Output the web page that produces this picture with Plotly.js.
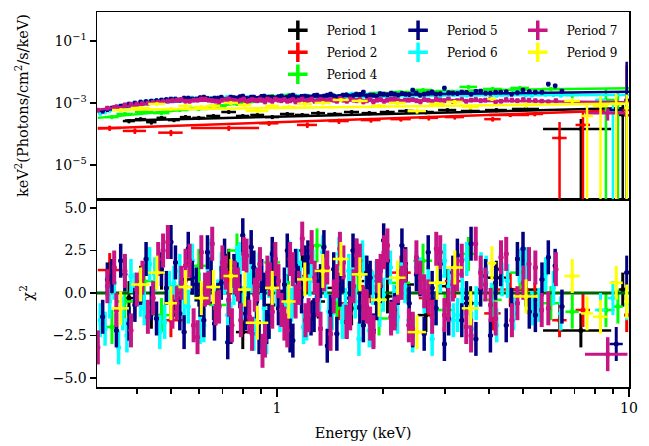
<!DOCTYPE html>
<html><head><meta charset="utf-8">
<script src="https://cdn.plot.ly/plotly-3.0.1.min.js"></script>
<style>html,body{margin:0;padding:0;background:#fff}#chart{width:649px;height:446px}</style>
</head><body><div id="chart"></div>
<script>
// ---------------- data (energy keV, E^2 flux, chi residual) ----------------
const P1_E  = [0.38,0.41,0.44,0.47,0.51,0.55,0.60,0.66,0.73,0.80,0.88,0.97,1.07,1.18,1.31,1.46,1.63,1.83,2.06,2.33,2.65,3.05,3.55,4.2,5.1,7.3,9.6];
const P1_DE = [0.015,0.015,0.015,0.015,0.02,0.02,0.025,0.03,0.035,0.035,0.04,0.045,0.05,0.055,0.06,0.07,0.08,0.09,0.1,0.12,0.14,0.18,0.22,0.3,0.45,1.6,0.25];
const P1_F  = [2.6e-4,3.0e-4,2.4e-4,3.3e-4,2.8e-4,3.5e-4,3.3e-4,3.8e-4,5.1e-4,3.8e-4,4.1e-4,3.5e-4,4.4e-4,4.1e-4,4.7e-4,4.4e-4,5.1e-4,4.7e-4,5.1e-4,5.5e-4,5.1e-4,5.9e-4,5.5e-4,5.9e-4,6.4e-4,1.45e-4,4.1e-4];
const P1_DF = [4e-5,4e-5,4e-5,5e-5,4e-5,5e-5,5e-5,5e-5,6e-5,5e-5,5e-5,5e-5,6e-5,6e-5,6e-5,6e-5,7e-5,7e-5,7e-5,8e-5,8e-5,8e-5,8e-5,9e-5,1e-4,1.6e-4,4.5e-4];
const P1_R  = [-0.3,0.6,-1.1,1.2,-0.4,0.8,0.2,-0.6,1.6,-2.3,0.4,-0.7,0.1,2.5,-0.5,0.3,-0.9,0.7,-0.2,0.5,-1.3,0.4,-0.6,0.9,0.2,-2.2,0.2];
const P1_ME = [0.37,10], P1_MF = [2.7e-4,6.9e-4];
const P2_E  = [0.335,0.395,0.50,0.73,0.95,1.22,1.5,1.85,2.25,2.7,3.2,4.1,4.6,5.4,6.35,7.4,9.85];
const P2_DE = [0.025,0.03,0.04,0.16,0.06,0.08,0.1,0.12,0.15,0.17,0.2,0.22,0.6,0.3,0.3,0.35,0.15];
const P2_F  = [1.55e-4,1.25e-4,1.1e-4,1.55e-4,2.2e-4,1.95e-4,2.6e-4,2.8e-4,3.0e-4,3.3e-4,3.5e-4,3.0e-4,4.1e-4,4.4e-4,7.4e-5,1.95e-4,4.0e-4];
const P2_DF = [3e-5,2.5e-5,2.5e-5,3e-5,4e-5,4e-5,5e-5,5e-5,5e-5,6e-5,6e-5,5e-5,6e-5,7e-5,1.7e-4,3.2e-4,1.6e-2];
const P2_R  = [1.35,-0.5,-1.6,0.3,0.8,1.0,-0.6,0.4,1.2,-0.3,0.7,-1.2,0.2,-0.4,-1.6,-1.0,-1.3];
const P2_ME = [0.31,10], P2_MF = [1.5e-4,5.9e-4];
const P4_E  = [0.34,0.37,0.42,0.47,0.53,0.60,0.68,0.77,0.87,0.97,1.08,1.30,1.48,1.70,1.95,2.25,2.60,3.00,3.50,4.10,4.90,6.00,6.90,8.60,9.30];
const P4_DE = [0.015,0.02,0.025,0.025,0.03,0.035,0.04,0.045,0.05,0.05,0.06,0.08,0.09,0.1,0.12,0.14,0.16,0.18,0.2,0.25,0.3,0.35,0.3,0.5,0.3];
const P4_F  = [3.5e-4,4.4e-4,5.1e-4,4.7e-4,5.9e-4,6.4e-4,8.0e-4,9.3e-4,1.16e-3,1.68e-3,1.81e-3,1.56e-3,1.68e-3,1.81e-3,2.1e-3,2.26e-3,2.62e-3,2.44e-3,3.3e-3,2.83e-3,3.05e-3,2.83e-3,1.81e-3,1.25e-3,9.3e-4];
const P4_DF = [5e-5,6e-5,7e-5,7e-5,8e-5,9e-5,1.1e-4,1.3e-4,1.6e-4,2.2e-4,2.4e-4,2.2e-4,2.4e-4,2.6e-4,3e-4,3.2e-4,3.6e-4,3.5e-4,4.5e-4,4.2e-4,4.6e-4,4.5e-4,4e-4,1.6e-3,1.5e-3];
const P4_R  = [-2.0,-0.5,0.7,-1.3,0.4,1.6,-0.7,2.5,0.2,1.8,-0.3,2.8,-0.9,1.1,-1.5,0.6,1.9,-1.0,2.3,-0.4,1.2,-0.6,-1.1,-1.0,-0.8];
const P4_ME = [0.31,0.5,0.8,1.2,2,4,10], P4_MF = [3.3e-4,5.5e-4,1.0e-3,1.5e-3,2.0e-3,2.6e-3,3.0e-3];
const P5_E  = [0.32,0.34,0.36,0.38,0.41,0.44,0.47,0.50,0.53,0.56,0.59,0.62,0.65,0.68,0.71,0.74,0.77,0.80,0.83,0.86,0.89,0.92,0.95,0.99,1.03,1.07,1.11,1.15,1.20,1.25,1.30,1.36,1.42,1.48,1.54,1.61,1.68,1.76,1.84,1.92,2.01,2.11,2.21,2.32,2.43,2.55,2.69,2.83,2.99,3.16,3.35,3.56,3.79,4.04,4.32,4.64,5.00,5.42,5.90,6.45];
const P5_F  = [0.55e-3,0.69e-3,0.80e-3,0.93e-3,1.08e-3,1.16e-3,1.25e-3,1.35e-3,1.25e-3,1.45e-3,1.35e-3,1.56e-3,1.35e-3,1.45e-3,1.25e-3,1.56e-3,1.45e-3,1.68e-3,1.35e-3,1.56e-3,1.45e-3,1.68e-3,1.56e-3,1.45e-3,1.68e-3,1.56e-3,1.81e-3,1.45e-3,1.68e-3,1.56e-3,1.81e-3,1.68e-3,1.95e-3,1.56e-3,1.81e-3,1.68e-3,1.95e-3,2.26e-3,1.81e-3,1.68e-3,1.95e-3,2.10e-3,1.81e-3,1.95e-3,2.62e-3,1.81e-3,2.10e-3,1.95e-3,3.05e-3,2.10e-3,2.26e-3,1.95e-3,2.44e-3,2.10e-3,2.26e-3,1.95e-3,2.62e-3,2.26e-3,4.10e-3,2.44e-3];
const P5_R  = [-1.4,1.0,1.9,-1.8,0.3,-0.6,1.4,3.0,-1.2,2.6,0.5,-1.6,1.1,-0.4,2.2,-2.0,0.8,3.4,-0.9,1.5,-2.6,0.2,-1.7,1.3,-0.8,2.5,-2.8,0.6,1.8,-1.5,0.4,2.7,-1.1,-2.4,1.0,-0.3,2.2,-1.9,0.9,-0.6,3.1,-1.4,0.3,1.7,-2.2,0.8,2.4,-0.9,-3.0,1.2,-1.6,2.9,0.2,-2.5,1.4,-0.7,2.6,-1.3,2.1,-0.8];
const P5B_E = [0.33,0.35,0.37,0.395,0.425,0.455,0.485,0.515,0.545,0.575,0.605,0.635,0.665,0.695,0.725,0.755,0.785,0.815,0.845,0.875,0.905,0.935,0.97,1.01,1.05,1.09,1.13,1.175,1.225,1.275,1.33,1.39,1.45,1.51,1.575,1.645,1.72,1.80,1.88,1.965,2.06,2.16,2.265,2.375,2.49,2.62,2.76,2.91,3.075,3.255,3.455,3.675,3.915,4.18,4.48,4.82,5.21,5.66,6.17];
const P5B_F = [0.62e-3,0.75e-3,0.86e-3,1.00e-3,1.12e-3,1.20e-3,1.30e-3,1.35e-3,1.45e-3,1.35e-3,1.50e-3,1.40e-3,1.45e-3,1.55e-3,1.35e-3,1.50e-3,1.60e-3,1.45e-3,1.55e-3,1.40e-3,1.65e-3,1.50e-3,1.55e-3,1.60e-3,1.45e-3,1.70e-3,1.55e-3,1.65e-3,1.60e-3,1.75e-3,1.60e-3,1.80e-3,1.70e-3,1.65e-3,1.85e-3,1.75e-3,1.90e-3,1.70e-3,1.80e-3,2.00e-3,1.85e-3,1.95e-3,2.05e-3,1.90e-3,2.10e-3,1.95e-3,2.30e-3,2.00e-3,2.15e-3,2.05e-3,2.20e-3,2.40e-3,2.10e-3,2.25e-3,2.30e-3,2.15e-3,2.35e-3,2.25e-3,3.60e-3];
const P5B_R = [0.8,-2.2,1.1,-0.7,2.0,-1.5,0.3,1.8,-2.3,0.9,-0.4,2.4,-1.8,0.6,-2.9,1.3,0.1,-1.2,2.7,-0.5,1.0,-2.0,2.3,-0.9,0.5,-2.5,1.6,-0.2,2.1,-1.3,0.7,-3.1,1.4,0.2,-1.7,2.5,-0.8,1.2,-2.2,0.4,1.9,-1.0,2.8,-0.6,1.1,-2.4,0.3,1.7,-1.5,2.2,-0.3,-2.7,1.0,0.6,-1.9,2.0,-1.1,0.8,1.6];
const P5T_E = [9.2,9.85], P5T_DE = [0.4,0.15], P5T_F = [5.9e-4,1.25e-3], P5T_DF = [7e-4,2e-2], P5T_R = [-3.0,1.2];
const P5_ME = [0.31,0.45,0.7,1,3,10], P5_MF = [5.5e-4,1.05e-3,1.4e-3,1.55e-3,1.95e-3,2.3e-3];
const P6_E  = [0.315,0.335,0.355,0.375,0.395,0.42,0.45,0.48,0.51,0.545,0.575,0.605,0.635,0.665,0.695,0.725,0.755,0.785,0.815,0.845,0.875,0.905,0.935,0.965,1.00,1.04,1.08,1.12,1.165,1.215,1.265,1.32,1.375,1.435,1.50,1.565,1.635,1.71,1.79,1.87,1.96,2.05,2.15,2.255,2.37,2.49,2.62,2.76,2.91,3.08,3.26,3.46,3.68,3.93,4.21,4.52,4.88,5.30,5.80,6.40];
const P6_F  = [0.47e-3,0.59e-3,0.74e-3,0.86e-3,1.00e-3,1.08e-3,1.16e-3,1.25e-3,1.35e-3,1.25e-3,1.45e-3,1.35e-3,1.45e-3,1.25e-3,1.35e-3,1.56e-3,1.35e-3,1.45e-3,1.25e-3,1.56e-3,1.35e-3,1.45e-3,1.56e-3,1.35e-3,1.45e-3,1.68e-3,1.45e-3,1.56e-3,1.35e-3,1.68e-3,1.56e-3,1.45e-3,1.68e-3,1.81e-3,1.56e-3,1.68e-3,1.95e-3,1.56e-3,1.81e-3,1.68e-3,1.95e-3,1.68e-3,1.81e-3,2.10e-3,1.68e-3,1.95e-3,1.81e-3,2.10e-3,1.68e-3,1.95e-3,2.26e-3,1.81e-3,1.95e-3,2.10e-3,1.81e-3,1.95e-3,2.10e-3,1.81e-3,1.95e-3,1.81e-3];
const P6_R  = [-1.6,-0.5,-3.2,-2.5,0.2,-0.9,1.1,-1.7,0.6,-0.3,1.9,-2.0,0.8,-0.6,1.4,-1.3,0.3,2.0,-0.8,1.0,-1.5,0.6,-2.6,1.5,0.2,-1.0,2.1,-0.4,0.9,-1.8,1.6,-0.2,0.7,-1.2,2.3,-0.7,0.5,-2.7,1.2,0.3,-1.0,1.8,-0.5,0.9,-1.6,1.5,-0.2,-2.7,1.0,0.4,-1.3,2.0,-0.6,1.2,-1.9,0.7,1.6,-0.9,1.1,-1.2];
const P6B_E = [0.325,0.345,0.365,0.385,0.41,0.435,0.465,0.495,0.53,0.56,0.59,0.62,0.65,0.68,0.71,0.74,0.77,0.80,0.83,0.86,0.89,0.92,0.95,0.985,1.02,1.06,1.10,1.145,1.19,1.24,1.295,1.35,1.405,1.47,1.535,1.60,1.67,1.75,1.83,1.915,2.005,2.10,2.20,2.31,2.43,2.555,2.69,2.835,2.995,3.17,3.36,3.57,3.80,4.07,4.36,4.70,5.09,5.55,6.10];
const P6B_F = [0.52e-3,0.66e-3,0.80e-3,0.93e-3,1.04e-3,1.12e-3,1.20e-3,1.30e-3,1.30e-3,1.40e-3,1.35e-3,1.50e-3,1.40e-3,1.30e-3,1.45e-3,1.50e-3,1.40e-3,1.35e-3,1.50e-3,1.45e-3,1.40e-3,1.55e-3,1.45e-3,1.50e-3,1.60e-3,1.50e-3,1.55e-3,1.65e-3,1.45e-3,1.60e-3,1.70e-3,1.55e-3,1.75e-3,1.65e-3,1.60e-3,1.80e-3,1.70e-3,1.65e-3,1.85e-3,1.75e-3,1.80e-3,1.90e-3,1.75e-3,1.85e-3,2.00e-3,1.80e-3,1.95e-3,1.85e-3,2.05e-3,1.90e-3,1.85e-3,2.00e-3,2.10e-3,1.90e-3,1.95e-3,2.05e-3,1.85e-3,2.00e-3,1.90e-3];
const P6B_R = [-2.1,0.6,-1.2,1.0,-0.4,1.7,-2.3,0.3,1.3,-0.8,0.5,-1.9,2.2,-0.2,0.9,-1.5,1.8,-0.6,0.2,-2.4,1.4,-0.9,0.7,2.0,-1.3,0.1,-0.7,1.6,-2.0,0.8,-0.3,2.4,-1.1,0.5,-1.7,1.3,-0.5,2.1,-2.2,0.9,-0.1,1.5,-1.4,0.4,-2.5,1.1,0.6,-0.9,1.9,-1.6,0.2,-2.1,1.4,-0.4,0.8,-1.2,1.7,-0.7,0.3];
const P6T_E = [8.3,9.0,9.85], P6T_DE = [0.3,0.3,0.15], P6T_F = [1.25e-3,5.1e-4,6.9e-4], P6T_DF = [3e-4,6e-4,8e-4], P6T_R = [-1.0,-0.3,-0.6];
const P6_ME = [0.31,0.45,0.7,1,3,10], P6_MF = [5.0e-4,1.0e-3,1.35e-3,1.45e-3,1.75e-3,1.8e-3];
const P7_E  = [0.31,0.33,0.35,0.37,0.40,0.43,0.46,0.49,0.52,0.55,0.58,0.61,0.64,0.67,0.70,0.73,0.76,0.79,0.82,0.85,0.88,0.91,0.94,0.97,1.01,1.05,1.09,1.13,1.18,1.23,1.28,1.33,1.39,1.45,1.51,1.58,1.65,1.72,1.80,1.88,1.97,2.06,2.16,2.26,2.37,2.49,2.62,2.76,2.91,3.07,3.25,3.45,3.67,3.91,4.18,4.48,4.82,5.20,5.65,6.20];
const P7_F  = [0.59e-3,0.69e-3,0.74e-3,0.86e-3,0.93e-3,1.00e-3,1.08e-3,1.16e-3,1.25e-3,1.16e-3,1.25e-3,1.35e-3,1.25e-3,1.16e-3,1.25e-3,1.35e-3,1.20e-3,1.25e-3,1.10e-3,1.30e-3,1.20e-3,1.25e-3,1.35e-3,1.15e-3,1.25e-3,1.30e-3,1.20e-3,1.10e-3,1.35e-3,1.25e-3,1.15e-3,1.30e-3,1.20e-3,1.25e-3,1.40e-3,1.15e-3,1.25e-3,1.30e-3,1.20e-3,1.10e-3,1.30e-3,1.25e-3,1.35e-3,1.15e-3,1.25e-3,1.20e-3,1.30e-3,1.10e-3,1.25e-3,1.35e-3,1.20e-3,1.15e-3,1.30e-3,1.25e-3,1.10e-3,1.30e-3,1.20e-3,1.25e-3,1.15e-3,1.20e-3];
const P7_R  = [-3.2,0.4,-1.0,1.3,0.2,-1.4,2.0,3.0,-0.6,1.6,-1.9,2.4,0.3,-0.9,1.8,-0.4,0.9,-1.6,2.2,-2.4,0.5,-3.4,1.2,-1.1,0.7,-1.8,2.0,-0.5,3.2,-1.3,0.9,-2.1,1.5,-0.2,2.6,-1.7,0.4,1.9,-0.8,-2.3,1.3,2.8,-1.2,0.6,-1.9,2.1,0.1,-1.4,2.4,-0.7,1.1,-2.0,2.9,0.5,-1.5,2.3,-0.6,1.7,-1.0,1.4];
const P7B_E = [0.345,0.385,0.415,0.445,0.475,0.505,0.535,0.565,0.595,0.625,0.655,0.685,0.715,0.745,0.775,0.805,0.835,0.865,0.895,0.925,0.955,0.99,1.03,1.07,1.11,1.155,1.205,1.255,1.305,1.36,1.42,1.48,1.545,1.615,1.685,1.76,1.84,1.925,2.015,2.11,2.21,2.315,2.43,2.555,2.69,2.835,2.99,3.16,3.35,3.56,3.79,4.045,4.33,4.65,5.01,5.42,5.9];
const P7B_F = [0.72e-3,0.90e-3,0.97e-3,1.05e-3,1.12e-3,1.20e-3,1.30e-3,1.15e-3,1.25e-3,1.35e-3,1.20e-3,1.10e-3,1.30e-3,1.25e-3,1.15e-3,1.35e-3,1.20e-3,1.25e-3,1.30e-3,1.10e-3,1.25e-3,1.35e-3,1.20e-3,1.15e-3,1.30e-3,1.25e-3,1.10e-3,1.35e-3,1.20e-3,1.25e-3,1.30e-3,1.15e-3,1.25e-3,1.35e-3,1.20e-3,1.10e-3,1.30e-3,1.25e-3,1.15e-3,1.35e-3,1.20e-3,1.25e-3,1.30e-3,1.10e-3,1.25e-3,1.35e-3,1.20e-3,1.15e-3,1.30e-3,1.25e-3,1.20e-3,1.35e-3,1.15e-3,1.25e-3,1.30e-3,1.20e-3,1.10e-3];
const P7B_R = [1.5,-2.2,0.9,-0.3,2.5,-1.1,0.6,1.9,-2.6,0.2,2.9,-0.8,1.2,-1.9,0.5,2.3,-1.4,-0.1,1.7,-2.8,0.8,2.0,-1.0,-2.2,1.4,0.3,-1.6,2.7,-0.4,1.1,-2.4,0.7,1.8,-1.2,2.2,-0.6,-1.8,1.0,2.4,-1.5,0.4,1.6,-2.1,0.9,-0.2,2.6,-1.3,0.5,1.9,-2.5,1.2,-0.7,2.1,-1.6,0.6,1.5,-0.9];
const P7T_E = [8.7], P7T_DE = [1.2], P7T_F = [4.7e-4], P7T_DF = [2e-4], P7T_R = [-3.6];
const P7_ME = [0.31,0.5,1,3,10], P7_MF = [6.0e-4,1.15e-3,1.22e-3,1.2e-3,1.05e-3];
const P9_E  = [0.36,0.41,0.456,0.50,0.55,0.61,0.66,0.74,0.81,0.88,0.97,1.08,1.2,1.35,1.52,1.72,1.95,2.2,2.5,2.85,3.2,3.55,4.08,5.1,6.9,7.6,8.3,9.2,9.85];
const P9_DE = [0.02,0.025,0.025,0.02,0.025,0.03,0.03,0.035,0.035,0.065,0.045,0.05,0.06,0.07,0.08,0.09,0.1,0.12,0.15,0.15,0.17,0.2,0.12,0.4,0.35,0.3,0.4,0.4,0.15];
const P9_F  = [5.9e-4,6.9e-4,9.3e-4,6.4e-4,8.0e-4,7.4e-4,8.0e-4,1.0e-3,8.6e-4,5.5e-4,8.0e-4,7.4e-4,9.3e-4,1.0e-3,1.25e-3,1.16e-3,8.0e-4,1.0e-3,5.5e-4,9.3e-4,1.08e-3,7.4e-4,1.35e-3,8.6e-4,1.16e-3,3.8e-4,8.0e-4,9.3e-4,6.9e-4];
const P9_DF = [7e-5,8e-5,1.1e-4,8e-5,1e-4,9e-5,1e-4,1.2e-4,1.1e-4,8e-5,1e-4,1e-4,1.2e-4,1.3e-4,1.5e-4,1.5e-4,1.1e-4,1.4e-4,1e-4,1.4e-4,1.6e-4,1.3e-4,2e-4,1.6e-4,2.2e-4,4.5e-4,9e-4,1.0e-3,1.2e-3];
const P9_R  = [-0.9,0.5,1.2,-0.6,0.35,-0.3,0.35,1.0,0.2,-1.75,0.3,-0.5,0.8,1.3,2.0,1.1,-0.4,0.9,-2.3,0.6,1.5,-0.9,1.75,-0.2,1.0,-1.2,-1.4,0.6,-0.5];
const P9_ME = [0.36,10], P9_MF = [6.0e-4,9.6e-4];
const ZERO_E = [0.3,10], ZERO_R = [0,0];
const MINOR_TICKS = [0.4,0.5,0.6,0.7,0.8,0.9,2,3,4,5,6,7,8,9];

// ---------------- build traces ----------------
const FONT = 'DejaVu Serif';
const traces = [];
function errArr(a){ return {type:'data', array:a, visible:true}; }
function addData(color, E, F, R, ex, ey, th){
  traces.push({x:E, y:F, xaxis:'x2', yaxis:'y', type:'scatter', mode:'markers', showlegend:false, hoverinfo:'skip',
    marker:{color:color, size:4}, error_x:Object.assign({color:color, thickness:th, width:0}, ex),
    error_y:Object.assign({color:color, thickness:th, width:0}, ey)});
  traces.push({x:E, y:R, xaxis:'x', yaxis:'y2', type:'scatter', mode:'markers', showlegend:false, hoverinfo:'skip',
    marker:{color:color, size:5}, error_x:Object.assign({color:color, thickness:th, width:0}, ex),
    error_y:{type:'constant', value:1, color:color, thickness:th+0.5, width:0}});
}
function addModel(color, ME, MF){
  traces.push({x:ME, y:MF, xaxis:'x2', yaxis:'y', type:'scatter', mode:'lines', showlegend:false, hoverinfo:'skip',
    line:{color:color, width:2.5}});
}
function addLegend(name, color, legend){
  traces.push({x:[null], y:[null], xaxis:'x2', yaxis:'y', type:'scatter', mode:'markers', name:name, legend:legend,
    legendgroup:name, marker:{symbol:'cross-thin-open', size:14, line:{color:color, width:3.5}, color:color}});
}
const C = {p1:'#000000', p2:'#ff0000', p4:'#00ff00', p5:'#000080', p6:'#00ffff', p7:'#c71585', p9:'#ffff00'};
const pctX = {type:'percent', value:1.5}, pctY = {type:'percent', value:18};

addData(C.p1, P1_E, P1_F, P1_R, errArr(P1_DE), errArr(P1_DF), 2.5); addModel(C.p1, P1_ME, P1_MF);
addData(C.p2, P2_E, P2_F, P2_R, errArr(P2_DE), errArr(P2_DF), 2.5); addModel(C.p2, P2_ME, P2_MF);
addData(C.p4, P4_E, P4_F, P4_R, errArr(P4_DE), errArr(P4_DF), 2.5); addModel(C.p4, P4_ME, P4_MF);
traces.push({x:ZERO_E, y:ZERO_R, xaxis:'x', yaxis:'y2', type:'scatter', mode:'lines', showlegend:false, hoverinfo:'skip',
  line:{color:'#006400', width:3}});
addData(C.p6, P6_E, P6_F, P6_R, pctX, pctY, 3);
addData(C.p6, P6B_E, P6B_F, P6B_R, pctX, pctY, 3);
addData(C.p6, P6T_E, P6T_F, P6T_R, errArr(P6T_DE), errArr(P6T_DF), 2.5); addModel(C.p6, P6_ME, P6_MF);
addData(C.p5, P5_E, P5_F, P5_R, pctX, pctY, 3);
addData(C.p5, P5B_E, P5B_F, P5B_R, pctX, pctY, 3);
addData(C.p5, P5T_E, P5T_F, P5T_R, errArr(P5T_DE), errArr(P5T_DF), 2.5); addModel(C.p5, P5_ME, P5_MF);
addData(C.p7, P7_E, P7_F, P7_R, pctX, pctY, 3.5);
addData(C.p7, P7B_E, P7B_F, P7B_R, pctX, pctY, 3.5);
addData(C.p7, P7T_E, P7T_F, P7T_R, errArr(P7T_DE), errArr(P7T_DF), 3); addModel(C.p7, P7_ME, P7_MF);
addData(C.p9, P9_E, P9_F, P9_R, errArr(P9_DE), errArr(P9_DF), 2.5); addModel(C.p9, P9_ME, P9_MF);

addLegend('Period 1', C.p1, 'legend'); addLegend('Period 2', C.p2, 'legend'); addLegend('Period 4', C.p4, 'legend');
addLegend('Period 5', C.p5, 'legend2'); addLegend('Period 6', C.p6, 'legend2');
addLegend('Period 7', C.p7, 'legend3'); addLegend('Period 9', C.p9, 'legend3');

const axLine = {showline:true, mirror:true, linecolor:'#000', linewidth:1.5, showgrid:false, zeroline:false};
const legBase = {yanchor:'top', xanchor:'left', y:0.99, itemwidth:48, bgcolor:'rgba(0,0,0,0)',
  font:{family:FONT, size:12, color:'#000'}, tracegroupgap:3, traceorder:'grouped'};
const layout = {
  width:649, height:446, margin:{l:97, r:20, t:12, b:59},
  paper_bgcolor:'#fff', plot_bgcolor:'#fff',
  font:{family:FONT, size:14, color:'#000'},
  showlegend:true,
  xaxis:Object.assign({type:'log', range:[-0.511,1], anchor:'y2', domain:[0,1],
    ticks:'outside', ticklen:8, tickwidth:1.5, tickcolor:'#000', tickmode:'array', tickvals:[1,10], ticktext:['1','10'],
    tickfont:{family:FONT, size:14, color:'#000'},
    minor:{tickmode:'array', tickvals:MINOR_TICKS, ticks:'outside', ticklen:5, tickwidth:1.5, tickcolor:'#000', showgrid:false},
    title:{text:'Energy (keV)', font:{family:FONT, size:14.5, color:'#000'}, standoff:12}}, axLine),
  xaxis2:Object.assign({type:'log', range:[-0.511,1], anchor:'y', domain:[0,1], ticks:'', showticklabels:false}, axLine),
  yaxis:Object.assign({type:'log', domain:[0.5013,1], range:[-6.10,-0.065], anchor:'x2',
    tickmode:'array', tickvals:[1e-1,1e-3,1e-5], ticktext:['10<sup>−1</sup>','10<sup>−3</sup>','10<sup>−5</sup>'],
    ticks:'outside', ticklen:6, tickwidth:1.5, tickcolor:'#000', tickfont:{family:FONT, size:14, color:'#000'},
    title:{text:'keV<sup>2</sup>(Photons/cm<sup>2</sup>/s/keV)', font:{family:FONT, size:14.5, color:'#000'}, standoff:22}}, axLine),
  yaxis2:Object.assign({domain:[0,0.5013], range:[-5.53,5.53], anchor:'x',
    tickmode:'array', tickvals:[-5,-2.5,0,2.5,5], ticktext:['−5.0','−2.5','0.0','2.5','5.0'],
    ticks:'outside', ticklen:6, tickwidth:1.5, tickcolor:'#000', tickfont:{family:FONT, size:14, color:'#000'},
    title:{text:'χ<sup>2</sup>', font:{family:FONT, size:15, color:'#000'}, standoff:15}}, axLine),
  legend:Object.assign({x:0.323}, legBase),
  legend2:Object.assign({x:0.549}, legBase),
  legend3:Object.assign({x:0.774}, legBase)
};
Plotly.newPlot('chart', traces, layout, {displayModeBar:false, staticPlot:true});
</script></body></html>
